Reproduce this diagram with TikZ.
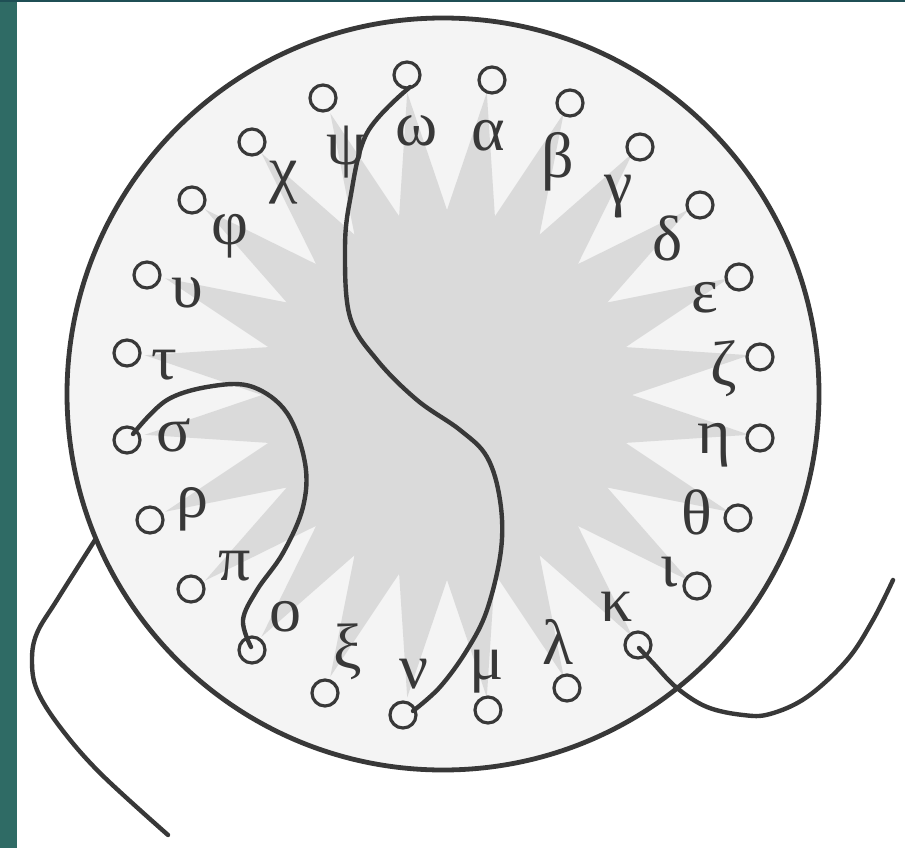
\documentclass[tikz,border=0pt]{standalone}
\usepackage{fontspec}
\setmainfont{Liberation Serif}
\definecolor{tealbg}{HTML}{2F6B65}
\definecolor{tealtop}{HTML}{1F4F55}
\definecolor{ink}{HTML}{383838}
\definecolor{discbg}{HTML}{F4F4F4}
\definecolor{starfill}{HTML}{DADADA}
\tikzset{
  hole/.style={circle, draw=ink, line width=3.2pt, minimum size=26pt, inner sep=0pt},
  letter/.style={text=ink, font=\fontsize{64}{64}\selectfont, inner sep=0pt},
  wire/.style={draw=ink, line width=4.4pt, line cap=round},
  rim/.style={draw=ink, line width=4.8pt}
}
\begin{document}
\begin{tikzpicture}[x=1pt,y=-1pt]
\useasboundingbox (0,0) rectangle (905,848);
\fill[white] (0,0) rectangle (905,848);
\fill[tealbg] (0,0) rectangle (17,848);
\fill[tealtop] (0,0) rectangle (905,2);
% disc
\coordinate (c) at (443,394);
\fill[discbg] (c) circle (376);
% star
\begin{scope}[shift={(447,395)}]
\fill[starfill] (0:185) \foreach \k in {0,...,23} { -- ({\k*15+7.5}:305) -- ({\k*15+15}:185) } -- cycle;
\end{scope}
\draw[rim] (c) circle (376);
% holes
\node[hole] (h-alpha)   at (492,80)  {};
\node[hole] (h-beta)    at (570,103) {};
\node[hole] (h-gamma)   at (640,147) {};
\node[hole] (h-delta)   at (700,205) {};
\node[hole] (h-eps)     at (739,277) {};
\node[hole] (h-zeta)    at (760,357) {};
\node[hole] (h-eta)     at (760,438) {};
\node[hole] (h-theta)   at (738,518) {};
\node[hole] (h-iota)    at (697,586) {};
\node[hole] (h-kappa)   at (638,645) {};
\node[hole] (h-lambda)  at (567,688) {};
\node[hole] (h-mu)      at (488,710) {};
\node[hole] (h-nu)      at (403,715) {};
\node[hole] (h-xi)      at (325,693) {};
\node[hole] (h-omicron) at (252,650) {};
\node[hole] (h-pi)      at (191,589) {};
\node[hole] (h-rho)     at (150,520) {};
\node[hole] (h-sigma)   at (127,440) {};
\node[hole] (h-tau)     at (127,353) {};
\node[hole] (h-ups)     at (147,275) {};
\node[hole] (h-phi)     at (192,200) {};
\node[hole] (h-chi)     at (252,142) {};
\node[hole] (h-psi)     at (323,98)  {};
\node[hole] (h-omega)   at (407,75)  {};
% letters
\node[letter] (l-alpha)   at (488,136) {α};
\node[letter] (l-beta)    at (558,162) {β};
\node[letter] (l-gamma)   at (619,197) {γ};
\node[letter] (l-delta)   at (668,238) {δ};
\node[letter] (l-eps)     at (705,298) {ε};
\node[letter] (l-zeta)    at (724,369) {ζ};
\node[letter] (l-eta)     at (714,445) {η};
\node[letter] (l-theta)   at (697,512) {θ};
\node[letter] (l-iota)    at (669,572) {ι};
\node[letter] (l-kappa)   at (617,607) {κ};
\node[letter] (l-lambda)  at (558,642) {λ};
\node[letter] (l-mu)      at (487,672) {μ};
\node[letter] (l-nu)      at (414,674) {ν};
\node[letter] (l-xi)      at (348,652) {ξ};
\node[letter] (l-omicron) at (285,617) {ο};
\node[letter] (l-pi)      at (235,566) {π};
\node[letter] (l-rho)     at (192,509) {ρ};
\node[letter] (l-sigma)   at (174,435) {σ};
\node[letter] (l-tau)     at (164,365) {τ};
\node[letter] (l-ups)     at (187,293) {υ};
\node[letter] (l-phi)     at (230,236) {φ};
\node[letter] (l-chi)     at (284,183) {χ};
\node[letter] (l-psi)     at (347,152) {ψ};
\node[letter] (l-omega)   at (417,131) {ω};
% wire ends
\coordinate (w-omega) at (410,87);
\coordinate (w-nu) at (413,711);
\coordinate (w-sigma) at (133,434);
\coordinate (w-omicron) at (251,647);
\coordinate (w-kappa) at (639,648);
\coordinate (w-kend) at (893,580);
\coordinate (w-left) at (95,540);
\coordinate (w-lend) at (168,835);
% wires
\draw[wire] plot[smooth, tension=0.6] coordinates {(w-omega) (367,133) (350,200) (345,250) (350,317) (377,360) (417,400) (460,430) (487,457) (500,500) (501,550) (487,610) (467,650) (440,687) (w-nu)};
\draw[wire] plot[smooth, tension=0.6] coordinates {(w-sigma) (167,400) (213,386) (253,387) (287,413) (305,463) (303,507) (283,553) (257,590) (243,620) (w-omicron)};
\draw[wire] plot[smooth, tension=0.6] coordinates {(w-left) (57,600) (37,633) (32,660) (37,690) (60,727) (100,773) (w-lend)};
\draw[wire] plot[smooth, tension=0.6] coordinates {(w-kappa) (653,663) (677,688) (707,707) (743,715) (770,714) (807,697) (847,660) (873,620) (w-kend)};
\end{tikzpicture}
\end{document}
